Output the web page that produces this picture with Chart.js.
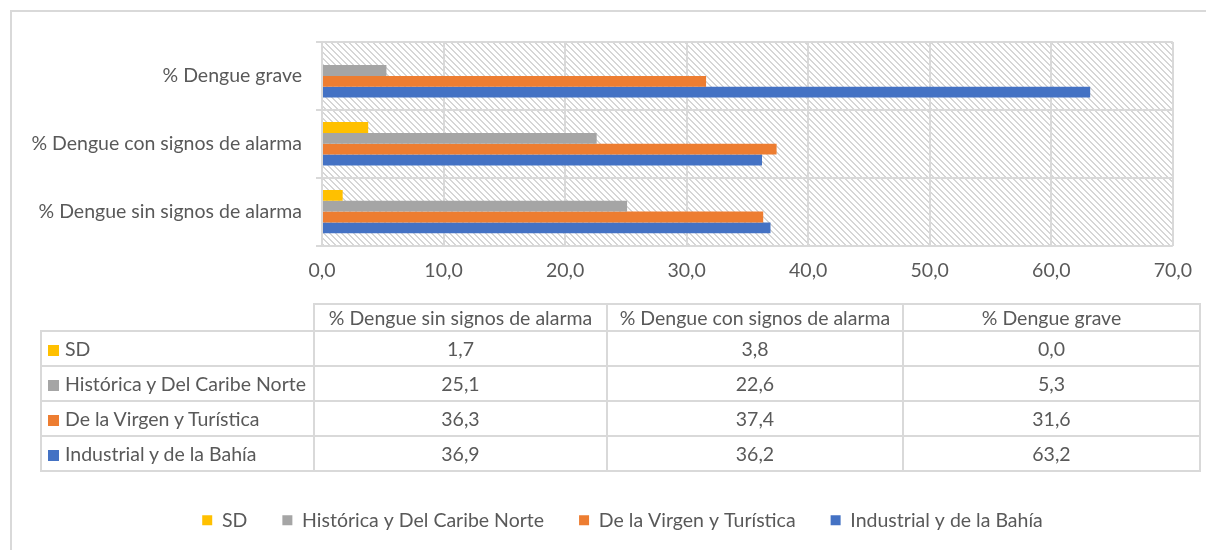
<!DOCTYPE html>
<html>
<head>
<meta charset="utf-8">
<script src="https://cdn.jsdelivr.net/npm/chart.js@4"></script>
<style>
  body { margin: 0; background: #fff; overflow: hidden; font-family: Lato, "Liberation Sans", sans-serif; }
  #frame { position: absolute; left: 10px; top: 10px; width: 1300px; height: 700px; border-top: 2px solid #d9d9d9; border-left: 2px solid #d9d9d9; }
  #wrap { position: absolute; left: 0; top: 0; width: 1206px; height: 550px; }
  #dataTable { position: absolute; left: 40px; top: 303px; border-collapse: collapse; color: #595959; font-size: 19.5px; }
  #dataTable td { border: 2px solid #d9d9d9; text-align: center; padding: 0; height: 33px; line-height: 22px; }
  #dataTable tr.head td { height: 25px; }
  #dataTable tr.head td.blank { border-top: none; border-left: none; }
  #dataTable td.name { text-align: left; padding-left: 6px; white-space: nowrap; }
  .key { display: inline-block; width: 11px; height: 11px; margin-right: 6px; }
</style>
</head>
<body>
<div id="frame"></div>
<div id="wrap"><canvas id="myBarChart" width="1206" height="550"></canvas></div>
<table id="dataTable"></table>
<script>
var categories = ["% Dengue sin signos de alarma", "% Dengue con signos de alarma", "% Dengue grave"];
var seriesNames = ["SD", "Histórica y Del Caribe Norte", "De la Virgen y Turística", "Industrial y de la Bahía"];
var sd = [1.7, 3.8, 0.0];
var historica = [25.1, 22.6, 5.3];
var virgen = [36.3, 37.4, 31.6];
var industrial = [36.9, 36.2, 63.2];
var xTicks = [0, 10, 20, 30, 40, 50, 60, 70];
var barColors = ["#ffc000", "#a5a5a5", "#ed7d31", "#4472c4"];

var allValues = [sd, historica, virgen, industrial];
var colWidths = [272, 291, 294, 295];

function fmt(v) {
  return v.toFixed(1).replace(".", ",");
}

// table under the chart
var table = document.getElementById("dataTable");
var head = "<tr class='head'><td class='blank' style='width:" + colWidths[0] + "px'></td>";
for (var c = 0; c < categories.length; c++) {
  head += "<td style='width:" + colWidths[c + 1] + "px'>" + categories[c] + "</td>";
}
table.innerHTML = head + "</tr>";
for (var s = 0; s < seriesNames.length; s++) {
  var row = "<tr><td class='name'><span class='key' style='background:" + barColors[s] + "'></span>" + seriesNames[s] + "</td>";
  for (var c = 0; c < categories.length; c++) {
    row += "<td>" + fmt(allValues[s][c]) + "</td>";
  }
  table.innerHTML += row + "</tr>";
}

// hatched plot background
var patCanvas = document.createElement("canvas");
patCanvas.width = 6;
patCanvas.height = 6;
var pctx = patCanvas.getContext("2d");
pctx.fillStyle = "#ffffff";
pctx.fillRect(0, 0, 6, 6);
pctx.fillStyle = "#d6d6d6";
for (var i = 0; i < 6; i++) {
  pctx.fillRect(i, i, 1, 1);
  pctx.fillRect((i + 1) % 6, i, 1, 1);
}

var hatchPlugin = {
  id: "hatch",
  beforeDraw: function (chart) {
    var a = chart.chartArea;
    var ctx = chart.ctx;
    ctx.save();
    ctx.fillStyle = ctx.createPattern(patCanvas, "repeat");
    ctx.fillRect(a.left, a.top, a.right - a.left, a.bottom - a.top);
    ctx.restore();
  }
};

// legend sits a bit right of the plot centre in the original
var legendShift = {
  id: "legendShift",
  afterLayout: function (chart) {
    chart.legend.left += 29;
    chart.legend.right += 29;
  }
};

var datasets = [];
for (var s = 0; s < seriesNames.length; s++) {
  datasets.push({
    label: seriesNames[s],
    data: allValues[s],
    backgroundColor: barColors[s],
    barPercentage: 1.0,
    categoryPercentage: 0.64
  });
}

Chart.defaults.font.family = "Lato, 'Liberation Sans', sans-serif";
Chart.defaults.font.size = 19.5;
Chart.defaults.color = "#595959";

new Chart("myBarChart", {
  type: "bar",
  data: {
    labels: categories,
    datasets: datasets
  },
  options: {
    indexAxis: "y",
    responsive: false,
    animation: false,
    layout: { padding: { left: 12, right: 31, top: 42, bottom: 10 } },
    plugins: {
      legend: {
        display: true,
        position: "bottom",
        labels: { boxWidth: 10, boxHeight: 10, padding: 35, color: "#595959" }
      },
      title: { display: false },
      tooltip: { enabled: false }
    },
    scales: {
      x: {
        min: 0,
        max: 70,
        afterBuildTicks: function (scale) {
          scale.ticks = xTicks.map(function (v) { return { value: v }; });
        },
        ticks: {
          padding: 14,
          callback: function (value) { return fmt(value); }
        },
        grid: { color: "#d9d9d9", lineWidth: 2, drawTicks: false },
        border: { display: false },
        afterFit: function (scale) { scale.height = 230; }
      },
      y: {
        reverse: true,
        ticks: { padding: 14 },
        grid: { color: "#d9d9d9", lineWidth: 2, tickLength: 6 },
        border: { color: "#d9d9d9", width: 2 },
        afterFit: function (scale) { scale.width = 310; }
      }
    }
  },
  plugins: [hatchPlugin, legendShift]
});
</script>
</body>
</html>
